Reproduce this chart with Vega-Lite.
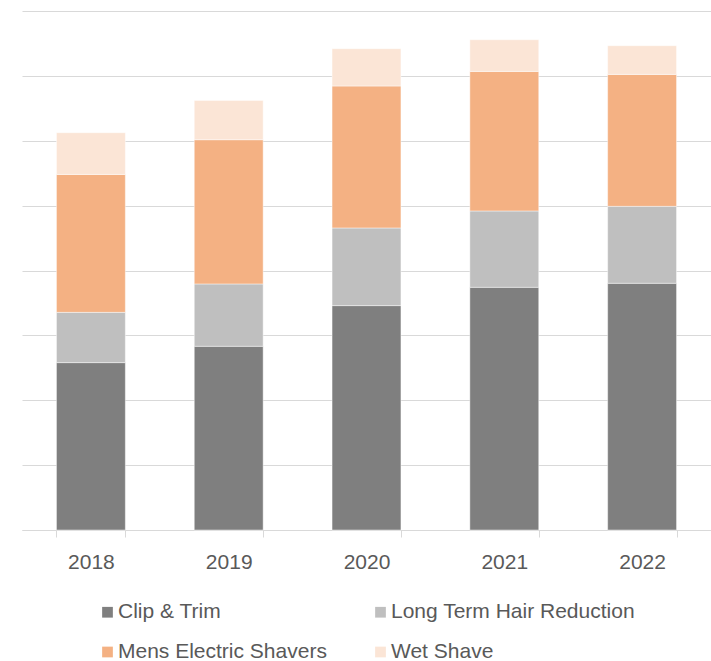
{
  "$schema": "https://vega.github.io/schema/vega-lite/v6.json",
  "autosize": "none",
  "width": 689,
  "height": 519,
  "padding": {"left": 22, "top": 11, "right": 0, "bottom": 131},
  "background": "#ffffff",
  "config": {
    "view": {"stroke": null},
    "font": "Liberation Sans"
  },
  "data": {
    "values": [
      {"year": "2018", "category": "Clip & Trim", "value": 2.58},
      {"year": "2018", "category": "Long Term Hair Reduction", "value": 0.775},
      {"year": "2018", "category": "Mens Electric Shavers", "value": 2.126},
      {"year": "2018", "category": "Wet Shave", "value": 0.643},
      {"year": "2019", "category": "Clip & Trim", "value": 2.832},
      {"year": "2019", "category": "Long Term Hair Reduction", "value": 0.961},
      {"year": "2019", "category": "Mens Electric Shavers", "value": 2.223},
      {"year": "2019", "category": "Wet Shave", "value": 0.606},
      {"year": "2020", "category": "Clip & Trim", "value": 3.459},
      {"year": "2020", "category": "Long Term Hair Reduction", "value": 1.197},
      {"year": "2020", "category": "Mens Electric Shavers", "value": 2.188},
      {"year": "2020", "category": "Wet Shave", "value": 0.575},
      {"year": "2021", "category": "Clip & Trim", "value": 3.741},
      {"year": "2021", "category": "Long Term Hair Reduction", "value": 1.177},
      {"year": "2021", "category": "Mens Electric Shavers", "value": 2.151},
      {"year": "2021", "category": "Wet Shave", "value": 0.488},
      {"year": "2022", "category": "Clip & Trim", "value": 3.803},
      {"year": "2022", "category": "Long Term Hair Reduction", "value": 1.186},
      {"year": "2022", "category": "Mens Electric Shavers", "value": 2.034},
      {"year": "2022", "category": "Wet Shave", "value": 0.442}
    ]
  },
  "mark": {"type": "bar", "stroke": "#ffffff", "strokeWidth": 0.75, "strokeOpacity": 0.6},
  "encoding": {
    "x": {
      "field": "year",
      "type": "nominal",
      "scale": {"paddingInner": 0.5, "paddingOuter": 0.25},
      "axis": {
        "title": null,
        "labelAngle": 0,
        "labelFont": "Liberation Sans",
        "labelFontSize": 21,
        "labelColor": "#595959",
        "labelPadding": 14,
        "domainColor": "#d9d9d9",
        "domainWidth": 1,
        "tickColor": "#d9d9d9",
        "tickWidth": 1,
        "tickSize": 7,
        "tickBand": "extent"
      }
    },
    "y": {
      "field": "value",
      "type": "quantitative",
      "stack": "zero",
      "scale": {"domain": [0, 8], "nice": false},
      "axis": {
        "title": null,
        "labels": false,
        "ticks": false,
        "domain": false,
        "tickCount": 8,
        "gridColor": "#d9d9d9",
        "gridWidth": 1
      }
    },
    "order": {"field": "category", "type": "nominal", "sort": "ascending"},
    "color": {
      "field": "category",
      "type": "nominal",
      "scale": {
        "domain": ["Clip & Trim", "Long Term Hair Reduction", "Mens Electric Shavers", "Wet Shave"],
        "range": ["#7f7f7f", "#bfbfbf", "#f4b183", "#fbe5d6"]
      },
      "legend": {
        "title": null,
        "orient": "none",
        "legendX": 75,
        "legendY": 590.5,
        "direction": "horizontal",
        "columns": 2,
        "columnPadding": 43,
        "rowPadding": 18,
        "padding": 0,
        "symbolType": "square",
        "symbolSize": 115,
        "symbolStrokeWidth": 0,
        "labelFont": "Liberation Sans",
        "labelFontSize": 21,
        "labelColor": "#595959",
        "labelOffset": 0,
        "labelLimit": 400
      }
    }
  }
}
